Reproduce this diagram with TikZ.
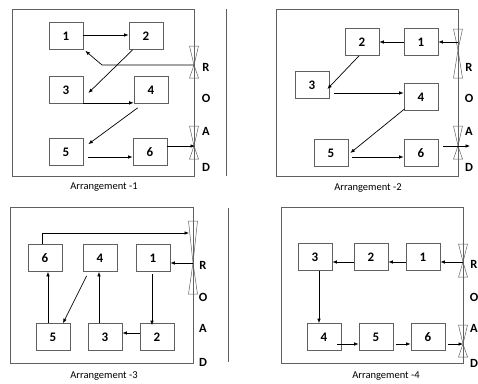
\documentclass[tikz,border=0pt]{standalone}
\usepackage{fontspec}
\setmainfont{Carlito}
\usetikzlibrary{arrows.meta,positioning,calc}
\tikzset{
  box/.style={draw=gray!75!black,line width=0.7pt,minimum width=34pt,
              minimum height=27pt,inner sep=0pt,font=\fontsize{13}{14}\selectfont\bfseries},
  arr/.style={-{Latex[length=4.5pt,width=3.6pt]},line width=0.7pt},
  yard/.style={draw=gray!75!black,line width=0.7pt},
  roadlt/.style={font=\fontsize{12.5}{14}\selectfont\bfseries,inner sep=0pt},
  capt/.style={font=\fontsize{10.5}{12}\selectfont,inner sep=0pt},
  valv/.style={draw=gray!75!black,line width=0.5pt},
}
% bowtie gate on the road side: x, top, crossing, bottom
\newcommand{\roadvalve}[4]{%
  \draw[valv] (#1-4.5,#2) -- (#1+4.5,#2) -- (#1,#3) -- cycle;
  \draw[valv] (#1-4.5,#4) -- (#1+4.5,#4) -- (#1,#3) -- cycle;}

\begin{document}
\begin{tikzpicture}[x=1pt,y=-1pt]
\useasboundingbox (0,0) rectangle (478,383);

% ---------------- Arrangement 1
\draw[yard] (12,9) rectangle (194,176);
\draw[yard] (226,9) -- (226,176);
\roadvalve{194}{46}{65}{78}
\roadvalve{194}{126}{146}{159}
\foreach \ch/\yy in {R/67,O/98,A/131,D/167}
  \node[roadlt] (r1\ch) at (206,\yy) {\ch};
\coordinate (r1vR) at (194,65);
\coordinate (r1vA) at (195,146);
\coordinate (r1bend) at (102,65);

\node[box] (r1n1) at (66,36)  {1};
\node[box] (r1n2) at (146,36) {2};
\node[box] (r1n3) at (66,90)  {3};
\node[box] (r1n4) at (151,90) {4};
\node[box] (r1n5) at (66,152) {5};
\node[box] (r1n6) at (150,152) {6};

\draw[arr] ([yshift=1pt]r1n1.east) -- ([yshift=1pt]r1n2.west);
\draw[arr] ([xshift=4pt]r1n2.south west) -- ([xshift=5pt,yshift=-3pt]r1n3.east);
\draw[arr] (r1vR) -- (r1bend) -- ([xshift=2pt,yshift=-1pt]r1n1.south east);
\draw[arr] ([yshift=1pt]r1n3.south east) -- ([yshift=1pt]r1n4.south west);
\draw[arr] ([xshift=4pt,yshift=-4pt]r1n4.south west) -- ([xshift=5pt,yshift=-6pt]r1n5.north east);
\draw[arr] ([xshift=5pt,yshift=-5pt]r1n5.east) -- ([yshift=-5pt]r1n6.west);
\draw[arr] ([yshift=6pt]r1n6.east) -- (r1vA);
\node[capt] (cap1) at (104,187) {Arrangement -1};

% ---------------- Arrangement 2
\draw[yard] (276,9) rectangle (458,176);
\roadvalve{458}{29}{50}{78}
\roadvalve{458}{126}{146}{159}
\foreach \ch/\yy in {R/67,O/98,A/131,D/167}
  \node[roadlt] (r2\ch) at (469,\yy) {\ch};
\coordinate (r2vR) at (458,42);
\coordinate (r2out) at (470,146);

\node[box] (r2n2) at (362,42)  {2};
\node[box] (r2n1) at (421,42)  {1};
\node[box] (r2n3) at (312,85)  {3};
\node[box] (r2n4) at (421,97)  {4};
\node[box] (r2n5) at (331,153) {5};
\node[box] (r2n6) at (421,153) {6};

\draw[arr] (r2vR) -- (r2n1.east);
\draw[arr] (r2n1.west) -- (r2n2.east);
\draw[arr] ([xshift=-3pt]r2n2.south) -- ([xshift=-2pt,yshift=-4pt]r2n3.east);
\draw[arr] ([xshift=5pt,yshift=-8pt]r2n3.east) -- ([yshift=4pt]r2n4.west);
\draw[arr] ([xshift=1pt,yshift=2pt]r2n4.south west) -- ([xshift=2pt]r2n5.east);
\draw[arr] ([xshift=4pt,yshift=-4pt]r2n5.east) -- ([yshift=-4pt]r2n6.west);
\draw[arr] ([xshift=5pt,yshift=7pt]r2n6.east) -- (r2out);
\node[capt] (cap2) at (368,188) {Arrangement -2};

% ---------------- Arrangement 3
\draw[yard] (10,207) rectangle (193,363);
\draw[yard] (228,208) -- (228,362);
\roadvalve{193}{221}{263}{294}
\foreach \ch/\yy in {R/265,O/297,A/328,D/362}
  \node[roadlt] (r3\ch) at (203,\yy) {\ch};
\coordinate (r3vR) at (193,263);
\coordinate (r3vtop) at (189,233);

\node[box] (r3n6) at (45,258)  {6};
\node[box] (r3n4) at (100,258) {4};
\node[box] (r3n1) at (153,258) {1};
\node[box] (r3n5) at (53,337)  {5};
\node[box] (r3n3) at (105,337) {3};
\node[box] (r3n2) at (157,337) {2};

\draw[arr] ([xshift=-3pt]r3n6.north) |- (r3vtop);
\draw[arr] (r3vR) -- (r3vR -| r3n1.east);
\draw[arr] ([xshift=-1pt,yshift=-2pt]r3n1.south) -- ([xshift=-1pt,yshift=-2pt]r3n1.south |- r3n2.north);
\draw[arr] ([yshift=4pt]r3n2.west) -- ([yshift=4pt]r3n3.east);
\draw[arr] ([xshift=-6pt]r3n3.north) -- ([xshift=-6pt]r3n3.north |- r3n4.south);
\draw[arr] ([xshift=4pt,yshift=-4pt]r3n4.south west) -- ([xshift=10pt]r3n5.north);
\draw[arr] ([xshift=-5pt]r3n5.north) -- ([xshift=-5pt]r3n5.north |- r3n6.south);
\node[capt] (cap3) at (104,376) {Arrangement -3};

% ---------------- Arrangement 4
\draw[yard] (281,207) rectangle (463,363);
\roadvalve{463}{244}{262}{277}
\roadvalve{463}{325}{344}{357}
\foreach \ch/\yy in {R/264,O/297,A/328,D/363}
  \node[roadlt] (r4\ch) at (474,\yy) {\ch};
\coordinate (r4vR) at (463,262);
\coordinate (r4vA) at (463,344);

\node[box] (r4n3) at (315,257) {3};
\node[box] (r4n2) at (371,257) {2};
\node[box] (r4n1) at (423,257) {1};
\node[box] (r4n4) at (324,337) {4};
\node[box] (r4n5) at (376,337) {5};
\node[box] (r4n6) at (428,337) {6};

\draw[arr] (r4vR) -- (r4vR -| r4n1.east);
\draw[arr] ([yshift=-5pt]r4n1.west) -- ([yshift=-5pt]r4n2.east);
\draw[arr] ([yshift=-5pt]r4n2.west) -- ([yshift=-5pt]r4n3.east);
\draw[arr] ([xshift=4pt]r4n3.south) -- ([xshift=4pt]r4n3.south |- r4n4.north);
\draw[arr] ([xshift=-4pt,yshift=-7pt]r4n4.east) -- ([yshift=-7pt]r4n5.west);
\draw[arr] ([xshift=3pt,yshift=-7pt]r4n5.east) -- ([yshift=-7pt]r4n6.west);
\draw[arr] ([xshift=3pt,yshift=-7pt]r4n6.east) -- (r4vA);
\node[capt] (cap4) at (386,376) {Arrangement -4};
\end{tikzpicture}
\end{document}
